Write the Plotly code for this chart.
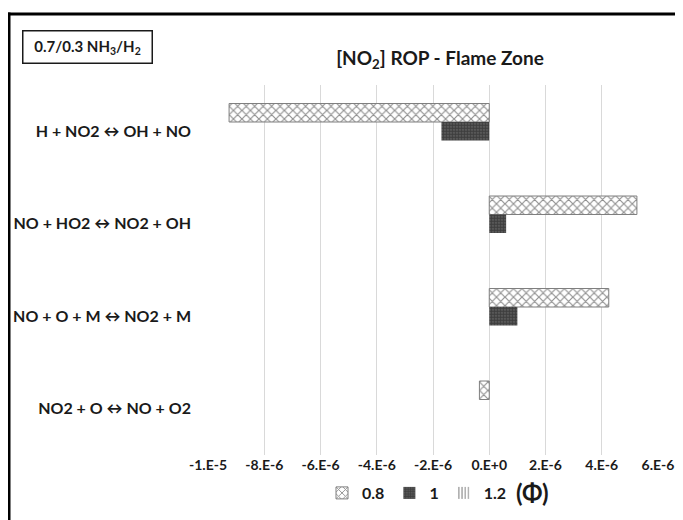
import plotly.graph_objects as go

# ---- data ----
reactions = [
    "H + NO2 \u2194 OH + NO",
    "NO + HO2 \u2194 NO2 + OH",
    "NO + O + M \u2194 NO2 + M",
    "NO2 + O \u2194 NO + O2",
]
phi_labels = ["0.8", "1", "1.2"]
rop_phi_08 = [-9.25e-6, 5.25e-6, 4.25e-6, -0.35e-6]
rop_phi_10 = [-1.7e-6, 0.6e-6, 1.0e-6, 0.0]
rop_phi_12 = [0.0, 0.0, 0.0, 0.0]
tick_vals = [-1e-5, -8e-6, -6e-6, -4e-6, -2e-6, 0.0, 2e-6, 4e-6, 6e-6]
tick_text = ["-1.E-5", "-8.E-6", "-6.E-6", "-4.E-6", "-2.E-6", "0.E+0", "2.E-6", "4.E-6", "6.E-6"]

FONT = "Lato, 'Open Sans', 'DejaVu Sans', sans-serif"
TXT = "#1a1a1a"

fig = go.Figure()
fig.add_trace(go.Bar(
    y=reactions, x=rop_phi_08, orientation="h", name=phi_labels[0],
    marker=dict(color="white", line=dict(color="#7f7f7f", width=1),
                pattern=dict(shape="x", fgcolor="#202020", bgcolor="white", size=6, solidity=0.35)),
))
fig.add_trace(go.Bar(
    y=reactions, x=rop_phi_10, orientation="h", name=phi_labels[1],
    marker=dict(color="#222", line=dict(color="#222", width=0),
                pattern=dict(shape=".", fgcolor="#111", bgcolor="#6a6a6a", size=3, solidity=0.75)),
))
fig.add_trace(go.Bar(
    y=reactions, x=rop_phi_12, orientation="h", name=phi_labels[2],
    marker=dict(color="white", line=dict(color="#222", width=0),
                pattern=dict(shape="|", fgcolor="#222", bgcolor="white", size=4, solidity=0.35)),
))

OFF = 8  # page body margin
W, H = 683 - OFF, 520 - OFF
L, R, T, B = 208 - OFF, 25, 85 - OFF, 65
pw, ph = W - L - R, H - T - B


def px(xw):
    return (xw - OFF - L) / pw


def py(yw):
    return (H - B - (yw - OFF)) / ph


fig.update_layout(
    width=W, height=H,
    margin=dict(l=L, r=R, t=T, b=B, autoexpand=False),
    paper_bgcolor="white", plot_bgcolor="white",
    font=dict(family=FONT, size=13, color=TXT, weight="bold"),
    barmode="group", bargap=0.4, bargroupgap=0,
    title=dict(text="[NO<sub>2</sub>] ROP - Flame Zone", x=(440 - OFF) / W, xanchor="center",
               y=1 - (58 - OFF) / H, yanchor="middle",
               font=dict(size=19, family=FONT, color=TXT, weight="bold")),
    xaxis=dict(range=[-1e-5, 6e-6], tickvals=tick_vals, ticktext=tick_text,
               showgrid=True, gridcolor="#d9d9d9", gridwidth=1,
               zeroline=True, zerolinecolor="#d9d9d9", zerolinewidth=1,
               showline=False, ticks="", automargin=False,
               tickfont=dict(size=14, family=FONT, color=TXT, weight="bold"),
               fixedrange=True),
    yaxis=dict(autorange="reversed", showgrid=False, zeroline=False, showline=False, ticks="",
               ticklabelstandoff=16, automargin=False,
               tickfont=dict(size=16, family=FONT, color=TXT, weight="bold")),
    legend=dict(orientation="h", x=px(512), xanchor="right", y=py(493), yanchor="middle",
                font=dict(size=16, family=FONT, color=TXT, weight="bold"), itemwidth=30,
                bgcolor="rgba(0,0,0,0)", traceorder="normal"),
    showlegend=True,
)

# legend title to the right, "(Φ)"
fig.add_annotation(text="(\u03a6)", x=px(532), y=py(492), xref="paper", yref="paper",
                   showarrow=False, font=dict(size=24, family=FONT, color=TXT, weight="bold"),
                   xanchor="center", yanchor="middle")

# mixture label box
fig.add_annotation(text="0.7/0.3 NH<sub>3</sub>/H<sub>2</sub>", x=px(87), y=py(46.5),
                   xref="paper", yref="paper", showarrow=False,
                   font=dict(size=15, family=FONT, color=TXT, weight="bold"),
                   bordercolor=TXT, borderwidth=1.5, borderpad=2,
                   width=124, height=27, bgcolor="white",
                   xanchor="center", yanchor="middle")

# outer frame (top and left edges visible)
fig.add_shape(type="line", xref="paper", yref="paper", x0=px(7), x1=px(683), y0=py(14), y1=py(14),
              line=dict(color="black", width=3))
fig.add_shape(type="line", xref="paper", yref="paper", x0=px(9), x1=px(9), y0=py(12.5), y1=py(520),
              line=dict(color="black", width=3))

fig.write_html("out.html")
